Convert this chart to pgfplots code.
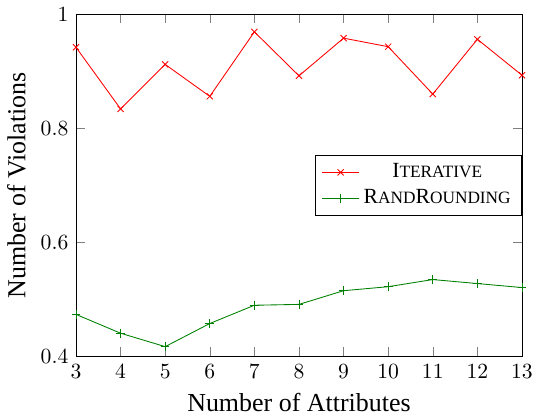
\documentclass[border=0pt]{standalone}
\usepackage{fontspec}
\setmainfont{Liberation Serif}
\usepackage{pgfplots}
\pgfplotsset{compat=1.18}
\newcommand{\fsc}[2]{{#1\fontsize{8}{9}\selectfont #2}}
\begin{document}
\begin{tikzpicture}
\begin{axis}[
  scale only axis,
  width=206.3pt, height=158.4pt,
  xmin=3, xmax=13, ymin=0.4, ymax=1,
  xtick={3,4,5,6,7,8,9,10,11,12,13},
  ytick={0.4,0.6,0.8,1},
  xlabel={\large Number of Attributes},
  ylabel={\large Number of Violations},
  legend style={at={(1,0.5)},anchor=east,font=\normalsize},
  legend cell align=center,
]
\addplot[red, mark=x] coordinates {
(3,0.942) (4,0.834) (5,0.912) (6,0.856) (7,0.969) (8,0.892) (9,0.958) (10,0.943) (11,0.860) (12,0.956) (13,0.893)
};
\addlegendentry{\fsc{I}{TERATIVE}}
\addplot[green!50!black, mark=+] coordinates {
(3,0.474) (4,0.441) (5,0.4175) (6,0.458) (7,0.490) (8,0.4915) (9,0.5155) (10,0.5225) (11,0.535) (12,0.528) (13,0.521)
};
\addlegendentry{\fsc{R}{AND}\fsc{R}{OUNDING}}
\end{axis}
\end{tikzpicture}
\end{document}
